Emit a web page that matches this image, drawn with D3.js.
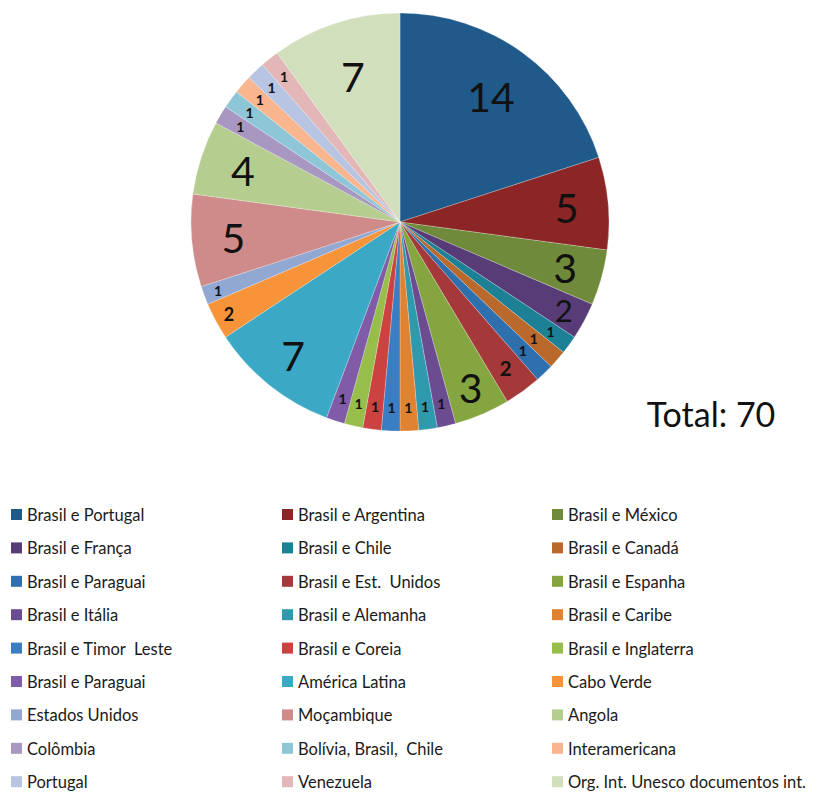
<!DOCTYPE html>
<html>
<head>
<meta charset="utf-8">
<script src="https://cdn.jsdelivr.net/npm/d3@7/dist/d3.min.js"></script>
<style>
  html, body { margin: 0; padding: 0; background: #fff; }
  svg { display: block; }
</style>
</head>
<body>
<svg id="chart" width="816" height="795"></svg>
<script>
// ---- Data ----
const categories = [
  "Brasil e Portugal", "Brasil e Argentina", "Brasil e México",
  "Brasil e França", "Brasil e Chile", "Brasil e Canadá",
  "Brasil e Paraguai", "Brasil e Est.  Unidos", "Brasil e Espanha",
  "Brasil e Itália", "Brasil e Alemanha", "Brasil e Caribe",
  "Brasil e Timor  Leste", "Brasil e Coreia", "Brasil e Inglaterra",
  "Brasil e Paraguai", "América Latina", "Cabo Verde",
  "Estados Unidos", "Moçambique", "Angola",
  "Colômbia", "Bolívia, Brasil,  Chile", "Interamericana",
  "Portugal", "Venezuela", "Org. Int. Unesco documentos int."
];
const values = [14, 5, 3, 2, 1, 1, 1, 2, 3, 1, 1, 1, 1, 1, 1, 1, 7, 2, 1, 5, 4, 1, 1, 1, 1, 1, 7];
const colors = [
  "#1f5a8b", "#8c2525", "#6f8a3a", "#573c78", "#1c8194", "#b9692b",
  "#2e6fae", "#a53838", "#85a540", "#6c4c91", "#2f99ad", "#df8231",
  "#3b7dc3", "#cb4241", "#97bd4b", "#7f5ba8", "#3ba9c5", "#f79439",
  "#91a8d2", "#cf8b8a", "#b5ce90", "#a898c1", "#8ec6d7", "#f9b58e",
  "#b7c5e2", "#e3b6b7", "#d1dfbd"
];
const totalLabel = "Total: 70";

// ---- Styles ----
const cx = 400, cy = 222, R = 209;
const font = "Lato, 'Open Sans', 'DejaVu Sans', sans-serif";

const svg = d3.select("#chart");

const pie = d3.pie().sort(null).value(d => d.value);
const data = categories.map((c, i) => ({ name: c, value: values[i], color: colors[i], idx: i }));
const arcs = pie(data);

const arc = d3.arc().innerRadius(0).outerRadius(R);

const g = svg.append("g").attr("transform", `translate(${cx},${cy})`);

g.selectAll("path.slice")
  .data(arcs)
  .join("path")
  .attr("class", "slice")
  .attr("d", arc)
  .attr("fill", d => d.data.color)
  .attr("stroke", "#ffffff")
  .attr("stroke-width", 0.4)
  .attr("stroke-opacity", 0.6);

// label placement / styling rules (by slice index)
const labelRadiusOverride = { 0: 0.74, 26: 0.73, 16: 0.82, 2: 0.82, 8: 0.86, 3: 0.89, 19: 0.8, 20: 0.79 };
function labelStyle(d) {
  const v = d.data.value, i = d.data.idx;
  let s;
  if (i === 3) s = { size: 31, weight: "normal", rf: 0.88 };
  else if (v >= 3) s = { size: 41, weight: "normal", rf: 0.8 };
  else if (v === 2) s = { size: i === 17 ? 18 : 21, weight: "bold", rf: i === 17 ? 0.93 : 0.86 };
  else {
    let rf = 0.89;
    if (i === 18) rf = 0.93;
    if (i === 5 || i === 6) rf = 0.85;
    s = { size: 14, weight: "bold", rf: rf };
  }
  if (labelRadiusOverride[i] !== undefined) s.rf = labelRadiusOverride[i];
  return s;
}

g.selectAll("text.lbl")
  .data(arcs)
  .join("text")
  .attr("class", "lbl")
  .each(function(d) {
    const s = labelStyle(d);
    const a = (d.startAngle + d.endAngle) / 2;
    const rr = R * s.rf;
    d3.select(this)
      .attr("x", Math.sin(a) * rr)
      .attr("y", -Math.cos(a) * rr)
      .attr("font-size", s.size)
      .attr("font-weight", s.weight);
  })
  .attr("text-anchor", "middle")
  .attr("dominant-baseline", "central")
  .attr("font-family", font)
  .attr("fill", "#111")
  .text(d => d.data.value);

// Total
svg.append("text")
  .attr("x", 711)
  .attr("y", 413)
  .attr("text-anchor", "middle")
  .attr("dominant-baseline", "central")
  .attr("font-family", font)
  .attr("font-size", 34)
  .attr("fill", "#111")
  .text(totalLabel);

// Legend
const colX = [11, 282, 552];
const rowY0 = 515, rowStep = 33.4;
const legend = svg.append("g");
data.forEach((d, i) => {
  const col = i % 3, row = Math.floor(i / 3);
  const x = colX[col], y = rowY0 + row * rowStep;
  legend.append("rect")
    .attr("x", x).attr("y", y - 6)
    .attr("width", 11).attr("height", 11)
    .attr("fill", d.color);
  legend.append("text")
    .attr("x", x + 16).attr("y", y)
    .attr("dominant-baseline", "central")
    .attr("font-family", font)
    .attr("font-size", 16.5)
    .attr("fill", "#1a1a1a")
    .style("white-space", "pre")
    .text(d.name);
});
</script>
</body>
</html>
